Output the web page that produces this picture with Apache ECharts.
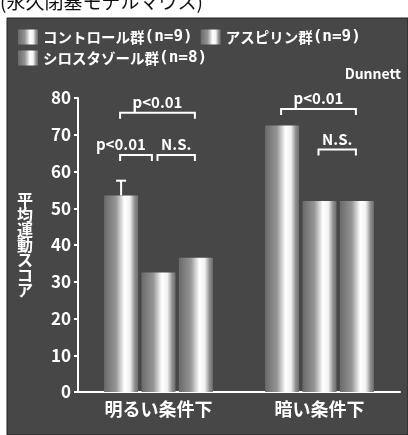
<!DOCTYPE html>
<html>
<head>
<meta charset="utf-8">
<script src="https://cdn.jsdelivr.net/npm/echarts@6/dist/echarts.min.js"></script>
<style>
  html, body { margin: 0; padding: 0; background: #fff; }
  #main { width: 408px; height: 435px; }
</style>
</head>
<body>
<div id="main"></div>
<script>
var categories = ['明るい条件下', '暗い条件下'];
var seriesNames = ['コントロール群(n=9)', 'アスピリン群(n=9)', 'シロスタゾール群(n=8)'];
var control = [53.5, 72.5];
var aspirin = [32.5, 52];
var cilostazol = [36.5, 52];
var controlErr = [4, 0]; // 暗い条件下は見えない
// 有意差ブラケット: [カテゴリ, 左の棒, 右の棒, 高さ, ラベル]
var brackets = [
  [0, 0, 2, 76, 'p<0.01'],
  [0, 0, 0.85, 64.5, 'p<0.01'],
  [0, 1, 2, 64.5, 'N.S.'],
  [1, 0, 2, 77, 'p<0.01'],
  [1, 1, 2, 66, 'N.S.']
];
var yTicks = [0, 10, 20, 30, 40, 50, 60, 70, 80];

var barWidth = 34;
var barGap = 0.1;
var font = '"Noto Sans CJK JP", "Noto Sans", sans-serif';

var barColor = new echarts.graphic.LinearGradient(0, 0, 1, 0, [
  {offset: 0, color: '#6a6a6a'},
  {offset: 0.35, color: '#959595'},
  {offset: 0.6, color: '#ffffff'},
  {offset: 0.76, color: '#f2f2f2'},
  {offset: 0.9, color: '#909090'},
  {offset: 1, color: '#6e6e6e'}
]);

function barX(api, cat, idx) {
  var c = api.coord([cat, 0])[0];
  return c + (idx - 1) * barWidth * (1 + barGap);
}

function renderErr(params, api) {
  var cat = api.value(0);
  if (!api.value(2)) return;
  var x = barX(api, cat, 0);
  var p0 = api.coord([cat, api.value(1)]);
  var p1 = api.coord([cat, api.value(1) + api.value(2)]);
  return {
    type: 'group',
    children: [
      {type: 'line', shape: {x1: x, y1: p0[1], x2: x, y2: p1[1]}, style: {stroke: '#fff', lineWidth: 2}},
      {type: 'line', shape: {x1: x - 5, y1: p1[1], x2: x + 5, y2: p1[1]}, style: {stroke: '#fff', lineWidth: 2}}
    ]
  };
}

function renderBracket(params, api) {
  var cat = api.value(0);
  var x1 = barX(api, cat, api.value(1)) - 1;
  var x2 = barX(api, cat, api.value(2)) - 1;
  var y = api.coord([cat, api.value(3)])[1];
  var label = brackets[params.dataIndex][4];
  // 隣り合うブラケットのラベルは右寄せ
  var short = api.value(2) % 1 !== 0;
  return {
    type: 'group',
    children: [
      {type: 'polyline', shape: {points: [[x1, y + 6], [x1, y], [x2, y], [x2, y + 6]]},
        style: {stroke: '#fff', lineWidth: 2, fill: null}},
      {type: 'text', x: short ? x2 - 6 : (x1 + x2) / 2, y: y - 3,
        style: {text: label, fill: '#fff', font: 'bold 15px ' + font,
          align: short ? 'right' : 'center', verticalAlign: 'bottom'}}
    ]
  };
}

// 凡例の (n=9) 部分は幅広の等幅で
function legendFormat(name) {
  var i = name.indexOf('(');
  return '{a|' + name.slice(0, i) + '}{b|' + name.slice(i) + '}';
}
var legendText = {
  color: '#fff', fontWeight: 'bold', fontFamily: font, padding: [0, 0, 0, 0],
  rich: {
    a: {color: '#fff', fontSize: 14.5, fontWeight: 'bold', fontFamily: font},
    b: {color: '#fff', fontSize: 16, fontWeight: 'bold', fontFamily: '"DejaVu Sans Mono", monospace'}
  }
};

var chart = echarts.init(document.getElementById('main'));
chart.setOption({
  backgroundColor: '#fff',
  animation: false,
  graphic: [
    {type: 'rect', z: -10, shape: {x: 7, y: 18, width: 401, height: 417},
      style: {fill: '#474747', stroke: '#222', lineWidth: 1}},
    {type: 'text', left: 0, top: -8, z: 5,
      style: {text: '(永久閉塞モデルマウス)', fill: '#111', font: '19px ' + font}},
    {type: 'text', right: 7, top: 67,
      style: {text: 'Dunnett', fill: '#fff', font: 'bold 14px ' + font}}
  ],
  legend: [{
    left: 13, top: 24, itemWidth: 20, itemHeight: 15, itemGap: 8, icon: 'rect',
    selectedMode: false, data: seriesNames.slice(0, 2), formatter: legendFormat, textStyle: legendText
  }, {
    left: 13, top: 45, itemWidth: 20, itemHeight: 15, icon: 'rect',
    selectedMode: false, data: seriesNames.slice(2), formatter: legendFormat, textStyle: legendText
  }],
  grid: {left: 78, right: 8, top: 98, bottom: 43},
  xAxis: {
    type: 'category',
    data: categories,
    axisLine: {lineStyle: {color: '#fff', width: 2}},
    axisTick: {show: false},
    axisLabel: {color: '#fff', fontSize: 18, fontWeight: 'bold', fontFamily: font, margin: 8}
  },
  yAxis: {
    type: 'value',
    min: 0,
    max: 80,
    interval: 10,
    name: '平\n均\n運\n動\nス\nコ\nア',
    nameLocation: 'middle',
    nameRotate: 0,
    nameGap: 45,
    nameTextStyle: {color: '#fff', fontSize: 16, fontWeight: 'bold', fontFamily: font, lineHeight: 15,
      padding: [0, 0, 14, 0]},
    axisLine: {show: true, lineStyle: {color: '#fff', width: 2}},
    axisTick: {show: true, length: 4, lineStyle: {color: '#fff', width: 2}},
    splitLine: {show: false},
    axisLabel: {color: '#fff', fontSize: 17, fontWeight: 'bold', fontFamily: font, margin: 7,
      customValues: yTicks}
  },
  series: [
    {name: seriesNames[0], type: 'bar', data: control, barWidth: barWidth, barGap: (barGap * 100) + '%',
      itemStyle: {color: barColor}},
    {name: seriesNames[1], type: 'bar', data: aspirin, barWidth: barWidth,
      itemStyle: {color: barColor}},
    {name: seriesNames[2], type: 'bar', data: cilostazol, barWidth: barWidth,
      itemStyle: {color: barColor}},
    {type: 'custom', renderItem: renderErr, z: 5,
      data: control.map(function (v, i) { return [i, v, controlErr[i]]; })},
    {type: 'custom', renderItem: renderBracket, z: 5,
      data: brackets.map(function (b) { return [b[0], b[1], b[2], b[3]]; })}
  ]
});
</script>
</body>
</html>
